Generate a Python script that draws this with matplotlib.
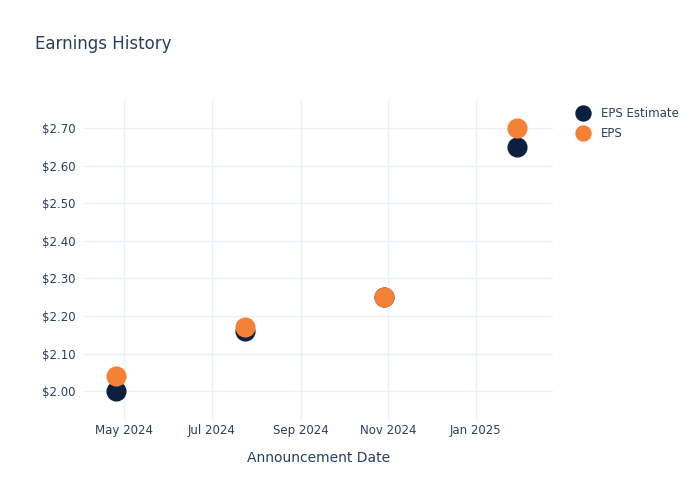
import pandas as pd
import matplotlib.pyplot as plt
import matplotlib.dates as mdates
from matplotlib.ticker import FuncFormatter

dates = pd.to_datetime(['2024-04-25', '2024-07-24', '2024-10-29', '2025-01-30'])
eps_estimate = [2.00, 2.16, 2.25, 2.65]
eps_actual = [2.04, 2.17, 2.25, 2.70]

text_col = '#2a3f5f'
grid_col = '#ebf0f8'
navy = '#0c1f3e'
orange = '#f58137'

plt.rcParams['font.family'] = ['DejaVu Sans']

fig = plt.figure(figsize=(7, 5), dpi=100)
ax = fig.add_axes([0.12, 0.16, 0.67, 0.64])

ax.plot(dates, eps_estimate, 'o', color=navy, markersize=13.5, label='EPS Estimate', zorder=3)
ax.plot(dates, eps_actual, 'o', color=orange, markersize=13.5, label='EPS', zorder=4)

ax.set_xlim(pd.Timestamp('2024-04-03'), pd.Timestamp('2025-02-24'))
ax.set_ylim(1.923, 2.775)
ax.set_yticks([2.0, 2.1, 2.2, 2.3, 2.4, 2.5, 2.6, 2.7])
ax.yaxis.set_major_formatter(FuncFormatter(lambda v, p: f'${v:.2f}'))
ax.set_xticks(pd.to_datetime(['2024-05-01', '2024-07-01', '2024-09-01', '2024-11-01', '2025-01-01']))
ax.xaxis.set_major_formatter(mdates.DateFormatter('%b %Y'))

for s in ax.spines.values():
    s.set_visible(False)
ax.grid(True, color=grid_col, linewidth=1)
ax.set_axisbelow(True)
ax.tick_params(length=0, labelsize=8.5, colors=text_col)
ax.tick_params(axis='x', pad=3)
ax.tick_params(axis='y', pad=6)

ax.set_xlabel('Announcement Date', fontsize=10, color=text_col, labelpad=10)
fig.text(0.05, 0.912, 'Earnings History', fontsize=12, color=text_col, va='center')

leg = ax.legend(loc='upper left', bbox_to_anchor=(0.809, 0.795), bbox_transform=fig.transFigure,
                frameon=False, fontsize=8.5, handletextpad=0.55, labelspacing=0.6,
                borderaxespad=0, markerscale=0.8)
for t in leg.get_texts():
    t.set_color(text_col)

fig.savefig('out.png', dpi=100)
